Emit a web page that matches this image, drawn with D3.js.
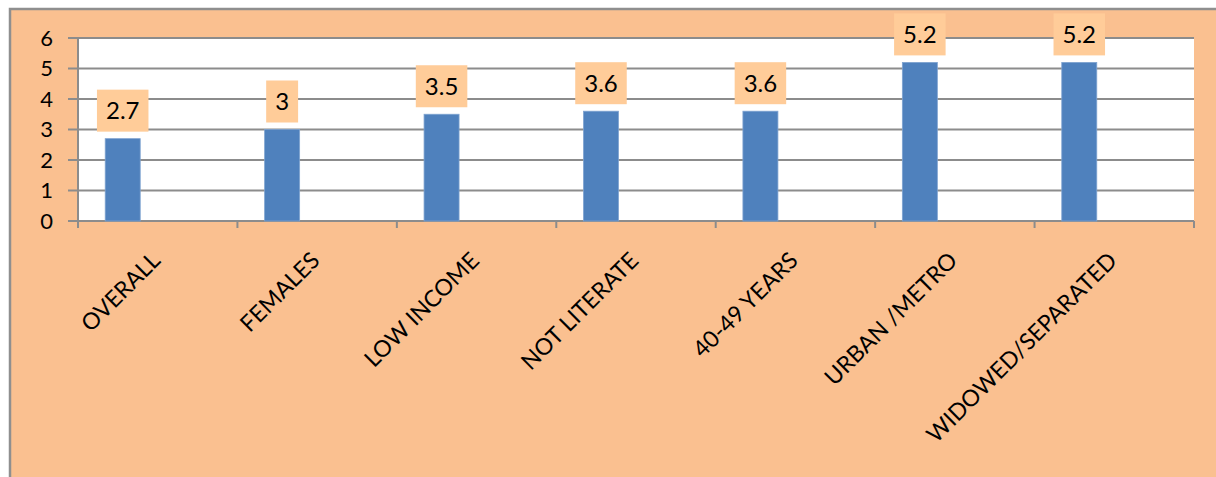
<!DOCTYPE html>
<html><head><meta charset="utf-8">
<script src="https://cdn.jsdelivr.net/npm/d3@7"></script>
<style>html,body{margin:0;padding:0;background:#fff;}svg{display:block;}</style>
</head><body>
<script>
const categories = ["OVERALL","FEMALES","LOW INCOME","NOT LITERATE","40-49 YEARS","URBAN /METRO","WIDOWED/SEPARATED"];
const values = [2.7, 3, 3.5, 3.6, 3.6, 5.2, 5.2];
const yTicks = [0,1,2,3,4,5,6];
const seriesSlots = ["s1","s2","s3"];

const W = 1216, H = 477;
const FONT = "Lato, 'Open Sans', sans-serif";
const svg = d3.select("body").append("svg").attr("width", W).attr("height", H);

// chart background
svg.append("rect").attr("x", 10).attr("y", 9).attr("width", W - 10 + 2).attr("height", H - 9 + 2)
  .attr("fill", "#FAC090").attr("stroke", "#8f8f8f").attr("stroke-width", 2.5);

const pl = 78, pr = 1194, pt = 38, pb = 221;
const x = d3.scaleBand().domain(categories).range([pl, pr]).padding(0);
const xs = d3.scaleBand().domain(seriesSlots).range([0, x.bandwidth()]).paddingInner(0).paddingOuter(0.777);
const y = d3.scaleLinear().domain([0, 6]).range([pb, pt]);

svg.append("rect").attr("x", pl).attr("y", pt).attr("width", pr - pl).attr("height", pb - pt).attr("fill", "#fff");

// gridlines + y ticks
svg.append("g").selectAll("line").data(yTicks).join("line")
  .attr("x1", pl - 10).attr("x2", pr).attr("y1", d => y(d)).attr("y2", d => y(d))
  .attr("stroke", "#8c8c8c").attr("stroke-width", 2);

svg.append("g").selectAll("text").data(yTicks).join("text")
  .attr("x", 53).attr("y", d => y(d)).attr("dy", "0.36em").attr("text-anchor", "end")
  .attr("font-family", FONT).attr("font-size", 22).attr("fill", "#000").text(d => d);

// y axis line
svg.append("line").attr("x1", pl).attr("x2", pl).attr("y1", pt).attr("y2", pb + 7)
  .attr("stroke", "#8c8c8c").attr("stroke-width", 2);

// x tick marks
const bounds = categories.map(c => x(c)).concat([pr]);
svg.append("g").selectAll("line").data(bounds).join("line")
  .attr("x1", d => d).attr("x2", d => d).attr("y1", pb).attr("y2", pb + 7)
  .attr("stroke", "#8c8c8c").attr("stroke-width", 2);

// bars
svg.append("g").selectAll("rect").data(values).join("rect")
  .attr("x", (d, i) => x(categories[i]) + xs("s1"))
  .attr("y", d => y(d))
  .attr("width", xs.bandwidth())
  .attr("height", d => y(0) - y(d))
  .attr("fill", "#4F81BD").attr("stroke", "#7FA3D0").attr("stroke-width", 0.8);

// data labels
const lab = svg.append("g").selectAll("g").data(values).join("g")
  .attr("transform", (d, i) => `translate(${x(categories[i]) + xs("s1") + xs.bandwidth() / 2},${y(d) - 28})`);
lab.each(function(d) {
  const g = d3.select(this);
  const t = g.append("text").attr("text-anchor", "middle").attr("dy", "0.36em")
    .attr("font-family", FONT).attr("font-size", 24).attr("fill", "#000").text(d);
  const bb = t.node().getBBox();
  g.insert("rect", "text").attr("x", -bb.width / 2 - 9).attr("y", -21)
    .attr("width", bb.width + 18).attr("height", 42).attr("fill", "#FFCC99");
});

// x labels
svg.append("g").selectAll("text").data(categories).join("text")
  .attr("transform", c => `translate(${x(c) + x.bandwidth() / 2 + 4},${262}) rotate(-45)`)
  .attr("text-anchor", "end")
  .attr("font-family", FONT).attr("font-size", 23).attr("fill", "#000").text(c => c);
</script>
</body></html>
